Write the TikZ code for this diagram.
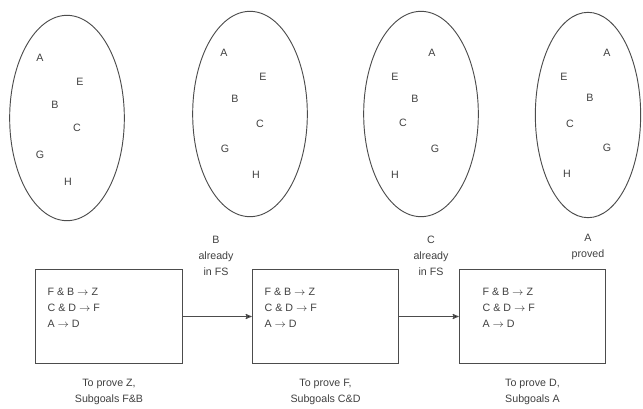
\documentclass[tikz,border=0pt]{standalone}
\usepackage{fontspec}
\setmainfont{Liberation Sans}
\usetikzlibrary{arrows,shapes.geometric,positioning}

\newcommand{\impl}{$\rightarrow$}

\begin{document}
\begin{tikzpicture}[x=0.75pt,y=-0.75pt,>=stealth',
  every node/.style={font=\fontsize{8}{12}\selectfont,text=black!75,inner sep=1pt},
  fset/.style={draw=black!70,line width=0.7pt,ellipse,minimum width=86pt,minimum height=154pt},
  goal/.style={draw=black!70,line width=0.7pt,minimum width=110pt,minimum height=71pt},
  rules/.style={align=left,anchor=north west},
  note/.style={align=center}]
  \useasboundingbox (0,0) rectangle (643,408);
  % fact sets
  \node[fset] (s1) at (67,118)  {};
  \node[fset] (s2) at (250,114) {};
  \node[fset] (s3) at (421,114) {};
  \node[fset,minimum width=79pt] (s4) at (588,115) {};
  \node (s1a) at (40,58)  {A}; \node (s1e) at (80,82)  {E}; \node (s1b) at (55,105) {B};
  \node (s1c) at (77,128) {C}; \node (s1g) at (40,155) {G}; \node (s1h) at (68,182) {H};
  \node (s2a) at (224,53)  {A}; \node (s2e) at (263,77)  {E}; \node (s2b) at (235,99) {B};
  \node (s2c) at (260,124) {C}; \node (s2g) at (225,149) {G}; \node (s2h) at (256,175) {H};
  \node (s3a) at (432,53)  {A}; \node (s3e) at (395,77)  {E}; \node (s3b) at (415,99) {B};
  \node (s3c) at (403,123) {C}; \node (s3g) at (435,149) {G}; \node (s3h) at (395,175) {H};
  \node (s4a) at (607,53)  {A}; \node (s4e) at (564,77)  {E}; \node (s4b) at (590,98) {B};
  \node (s4c) at (570,124) {C}; \node (s4g) at (607,148) {G}; \node (s4h) at (567,174) {H};
  % goal boxes
  \node[goal] (g1) at (109,316.5) {};
  \node[goal] (g2) at (325.5,316.5) {};
  \node[goal] (g3) at (532.5,316.5) {};
  \node[rules] (r1) at (46,287) {F \& B \impl{} Z\\C \& D \impl{} F\\A \impl{} D};
  \node[rules] (r2) at (263,287) {F \& B \impl{} Z\\C \& D \impl{} F\\A \impl{} D};
  \node[rules] (r3) at (481,287) {F \& B \impl{} Z\\C \& D \impl{} F\\A \impl{} D};
  \node[note,below=10pt of g1] (c1) {To prove Z,\\Subgoals F\&B};
  \node[note,below=10pt of g2] (c2) {To prove F,\\Subgoals C\&D};
  \node[note,below=10pt of g3] (c3) {To prove D,\\Subgoals A};
  \node[note] (n1) at (216,256) {B\\already\\in FS};
  \node[note] (n2) at (431,256) {C\\already\\in FS};
  \node[note] (n3) at (588,247) {A\\proved};
  \path[->,draw=black!70,line width=0.7pt] (g1) edge (g2)
                                           (g2) edge (g3);
\end{tikzpicture}
\end{document}
